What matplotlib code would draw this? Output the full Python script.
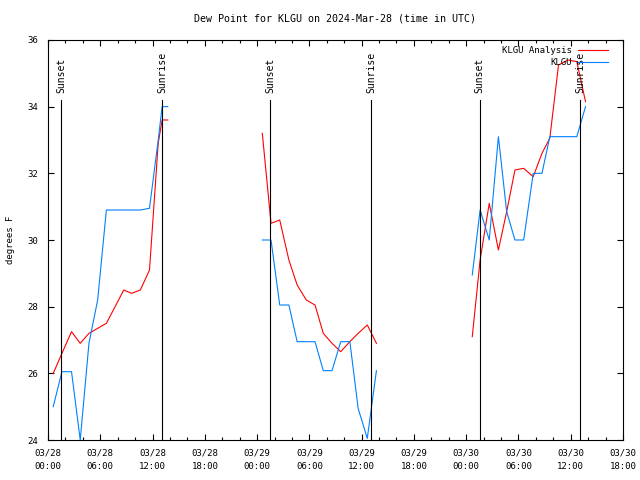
import numpy as np
import matplotlib.pyplot as plt
from matplotlib.ticker import MultipleLocator

plt.rcParams["font.family"] = "DejaVu Sans Mono"
plt.rcParams["font.size"] = 6.5

# hours since 03/28 00:00 UTC, three overnight chunks
t1 = [0.6, 1.6, 2.7, 3.7, 4.7, 5.7, 6.7, 7.7, 8.7, 9.6, 10.6, 11.65, 12.65, 13.1, 13.75]
t2 = [24.6, 25.6, 26.6, 27.65, 28.6, 29.65, 30.65, 31.6, 32.6, 33.6, 34.65, 35.6, 36.65, 37.7]
t3 = [48.7, 49.6, 50.65, 51.7, 52.65, 53.6, 54.6, 55.7, 56.7, 57.6, 58.6, 59.7, 60.7, 61.7]

# KLGU Analysis (red)
ana1 = [26.0, 26.6, 27.25, 26.9, 27.2, 27.35, 27.5, 28.0, 28.5, 28.4, 28.5, 29.1, 32.9, 33.6, 33.6]
ana2 = [33.2, 30.5, 30.6, 29.4, 28.65, 28.2, 28.05, 27.2, 26.9, 26.65, 26.95, 27.2, 27.45, 26.9]
ana3 = [27.1, 29.4, 31.1, 29.7, 30.85, 32.1, 32.15, 31.9, 32.6, 33.05, 35.25, 35.4, 35.35, 34.15]

# KLGU obs (blue)
obs1 = [25.0, 26.05, 26.05, 24.0, 26.9, 28.2, 30.9, 30.9, 30.9, 30.9, 30.9, 30.95, 33.0, 34.0, 34.0]
obs2 = [30.0, 30.0, 28.05, 28.05, 26.95, 26.95, 26.95, 26.08, 26.08, 26.95, 26.95, 24.95, 24.05, 26.08]
obs3 = [28.95, 30.9, 30.0, 33.1, 30.85, 30.0, 30.0, 32.0, 32.0, 33.1, 33.1, 33.1, 33.1, 34.0]

sunset = [1.5, 25.53, 49.55]
sunrise = [13.12, 37.1, 61.07]

tick_hours = np.arange(0, 67, 6)
tick_dates = ["03/28"] * 4 + ["03/29"] * 4 + ["03/30"] * 4
tick_times = ["00:00", "06:00", "12:00", "18:00"] * 3

fig = plt.figure(figsize=(6.4, 4.8), dpi=100)
ax = fig.add_axes([0.075, 0.0833, 0.8984, 0.8334])

red = "#ff0000"
blue = "#0080ff"
for i, (t, a) in enumerate([(t1, ana1), (t2, ana2), (t3, ana3)]):
    ax.plot(t, a, color=red, lw=0.8, label="KLGU Analysis" if i == 0 else None)
for i, (t, o) in enumerate([(t1, obs1), (t2, obs2), (t3, obs3)]):
    ax.plot(t, o, color=blue, lw=0.8, label="KLGU" if i == 0 else None)

for s in sunset:
    ax.plot([s, s], [24, 34.2], color="k", lw=0.8)
    ax.text(s, 34.4, "Sunset", rotation=90, ha="center", va="bottom", fontsize=7)
for s in sunrise:
    ax.plot([s, s], [24, 34.2], color="k", lw=0.8)
    ax.text(s, 34.4, "Sunrise", rotation=90, ha="center", va="bottom", fontsize=7)

ax.set_xlim(0, 66)
ax.set_ylim(24, 36)
ax.set_xticks(tick_hours)
ax.set_xticklabels([d + "\n" + h for d, h in zip(tick_dates, tick_times)], linespacing=1.7)
ax.xaxis.set_minor_locator(MultipleLocator(2))
ax.set_yticks(np.arange(24, 37, 2))
ax.tick_params(which="both", direction="in", top=True, right=True, width=0.8)
ax.tick_params(which="major", length=4.5)
ax.tick_params(axis="x", which="major", pad=6)
ax.tick_params(axis="y", which="major", pad=7)
ax.tick_params(which="minor", length=2.2)
for sp in ax.spines.values():
    sp.set_linewidth(0.8)

ax.set_ylabel("degrees F", labelpad=9)
ax.set_title("Dew Point for KLGU on 2024-Mar-28 (time in UTC)", pad=13, fontsize=7.2)
ax.legend(loc="upper right", bbox_to_anchor=(1 - 9 / 575, 1), frameon=False,
          markerfirst=False, handlelength=3.3, borderaxespad=0.3,
          labelspacing=0.3, handletextpad=0.7)

plt.savefig("out.png", dpi=100)
